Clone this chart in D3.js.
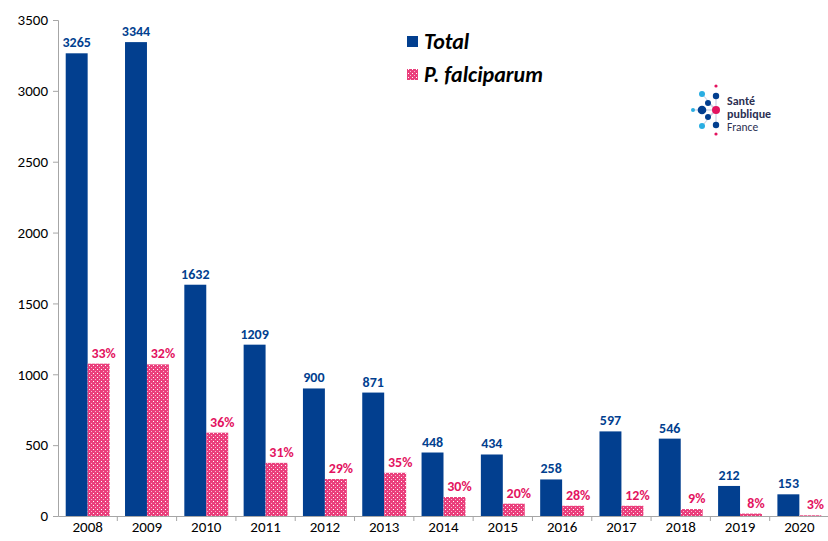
<!DOCTYPE html>
<html>
<head>
<meta charset="utf-8">
<script src="https://cdn.jsdelivr.net/npm/d3@7"></script>
<style>
  body { margin: 0; background: #fff; }
  svg text { font-family: Carlito, Calibri, Lato, "Open Sans", sans-serif; }
</style>
</head>
<body>
<div id="chart"></div>
<script>
// Data
const years = ["2008", "2009", "2010", "2011", "2012", "2013", "2014", "2015", "2016", "2017", "2018", "2019", "2020"];
const totals = [3265, 3344, 1632, 1209, 900, 871, 448, 434, 258, 597, 546, 212, 153];
const falciparum = [1075, 1070, 588, 375, 261, 305, 134, 87, 72, 72, 49, 17, 5];
const pctLabels = ["33%", "32%", "36%", "31%", "29%", "35%", "30%", "20%", "28%", "12%", "9%", "8%", "3%"];
const yTicks = [0, 500, 1000, 1500, 2000, 2500, 3000, 3500];

const blue = "#023f8f";
const pink = "#e3135f";

const W = 828, H = 541;
const margin = { top: 20, right: 0, bottom: 25, left: 58 };

const svg = d3.select("#chart").append("svg")
  .attr("width", W)
  .attr("height", H);

// checker pattern for P. falciparum bars
const defs = svg.append("defs");
const pat = defs.append("pattern")
  .attr("id", "pf")
  .attr("width", 4).attr("height", 4)
  .attr("patternUnits", "userSpaceOnUse");
pat.append("rect").attr("width", 4).attr("height", 4).attr("fill", "#ea3f7c");
pat.append("rect").attr("x", 1).attr("y", 1).attr("width", 1).attr("height", 1).attr("fill", "#fff");
pat.append("rect").attr("x", 3).attr("y", 3).attr("width", 1).attr("height", 1).attr("fill", "#f7b8cf");

const x = d3.scaleBand()
  .domain(years)
  .range([margin.left, 829])
  .paddingInner(0)
  .paddingOuter(0);

const y = d3.scaleLinear()
  .domain([0, 3500])
  .range([H - margin.bottom, margin.top]);

const barW = x.bandwidth() * 0.37;
const groupOff = (x.bandwidth() - 2 * barW) / 2;

// Axes
const yAxis = svg.append("g")
  .attr("transform", `translate(${margin.left},0)`)
  .call(d3.axisLeft(y).tickValues(yTicks).tickFormat(d3.format("d")).tickSize(5).tickPadding(5));
yAxis.select(".domain").attr("stroke", "#a6a6a6");
yAxis.selectAll(".tick line").attr("stroke", "#a6a6a6");
yAxis.selectAll("text").attr("font-size", 15).attr("fill", "#000");

const xAxis = svg.append("g")
  .attr("transform", `translate(0,${H - margin.bottom})`)
  .call(d3.axisBottom(x).tickSize(0).tickPadding(5));
xAxis.select(".domain").attr("stroke", "#a6a6a6");
xAxis.selectAll("text").attr("font-size", 15).attr("fill", "#000");
// ticks between categories
xAxis.selectAll(".sep")
  .data(years.slice(1))
  .enter().append("line")
  .attr("class", "sep")
  .attr("x1", d => x(d)).attr("x2", d => x(d))
  .attr("y1", 0).attr("y2", 5)
  .attr("stroke", "#a6a6a6");

// Bars
const g = svg.append("g");
g.selectAll(".total")
  .data(years)
  .enter().append("rect")
  .attr("class", "total")
  .attr("x", d => x(d) + groupOff)
  .attr("width", barW)
  .attr("y", (d, i) => y(totals[i]))
  .attr("height", (d, i) => y(0) - y(totals[i]))
  .attr("fill", blue);

g.selectAll(".pf")
  .data(years)
  .enter().append("rect")
  .attr("class", "pf")
  .attr("x", d => x(d) + groupOff + barW)
  .attr("width", barW)
  .attr("y", (d, i) => y(falciparum[i]))
  .attr("height", (d, i) => y(0) - y(falciparum[i]))
  .attr("fill", "url(#pf)");

// Value labels
g.selectAll(".tlab")
  .data(years)
  .enter().append("text")
  .attr("x", d => x(d) + groupOff + barW / 2)
  .attr("y", (d, i) => y(totals[i]) - 6)
  .attr("text-anchor", "middle")
  .attr("font-size", 14)
  .attr("font-weight", "bold")
  .attr("fill", blue)
  .text((d, i) => totals[i]);

g.selectAll(".plab")
  .data(years)
  .enter().append("text")
  .attr("x", d => x(d) + groupOff + barW * 1.5 + 5)
  .attr("y", (d, i) => y(falciparum[i]) - 6)
  .attr("text-anchor", "middle")
  .attr("font-size", 14)
  .attr("font-weight", "bold")
  .attr("fill", pink)
  .text((d, i) => pctLabels[i]);

// Legend
const legend = svg.append("g").attr("transform", "translate(407,36)");
legend.append("rect").attr("width", 11).attr("height", 11).attr("fill", blue);
legend.append("text").attr("x", 17).attr("y", 13)
  .attr("font-size", 22).attr("font-weight", "bold").attr("font-style", "italic")
  .text("Total");
legend.append("rect").attr("y", 33).attr("width", 11).attr("height", 11).attr("fill", "url(#pf)");
legend.append("text").attr("x", 17).attr("y", 46)
  .attr("font-size", 22).attr("font-weight", "bold").attr("font-style", "italic")
  .text("P. falciparum");

// Santé publique France logo
const logo = svg.append("g").attr("transform", "translate(690,84)");
const dots = [
  [26, 2, 1.6, pink], [12, 10, 3, "#2aaee2"], [26, 12, 3.2, blue],
  [18, 19, 3, blue], [3, 26, 2, "#2aaee2"], [12, 26, 4.3, blue],
  [26, 26, 4, pink], [18, 33, 3, blue], [12, 42, 3, "#2aaee2"],
  [26, 41, 3.2, blue], [26, 50, 1.6, pink]
];
logo.selectAll(".ray")
  .data([[12, 10], [18, 19], [3, 26], [18, 33], [12, 42], [26, 12], [26, 41]])
  .enter().append("line")
  .attr("x1", 26).attr("y1", 26)
  .attr("x2", d => d[0]).attr("y2", d => d[1])
  .attr("stroke", "#9aa3c7").attr("stroke-width", 0.6);
logo.selectAll("circle")
  .data(dots)
  .enter().append("circle")
  .attr("cx", d => d[0]).attr("cy", d => d[1]).attr("r", d => d[2])
  .attr("fill", d => d[3]);
const logoText = logo.append("g").attr("fill", "#2b2f52");
logoText.append("text").attr("x", 37).attr("y", 21).attr("font-size", 12).attr("font-weight", "bold").text("Santé");
logoText.append("text").attr("x", 37).attr("y", 34).attr("font-size", 12).attr("font-weight", "bold").text("publique");
logoText.append("text").attr("x", 37).attr("y", 47).attr("font-size", 11.5).text("France");
</script>
</body>
</html>
